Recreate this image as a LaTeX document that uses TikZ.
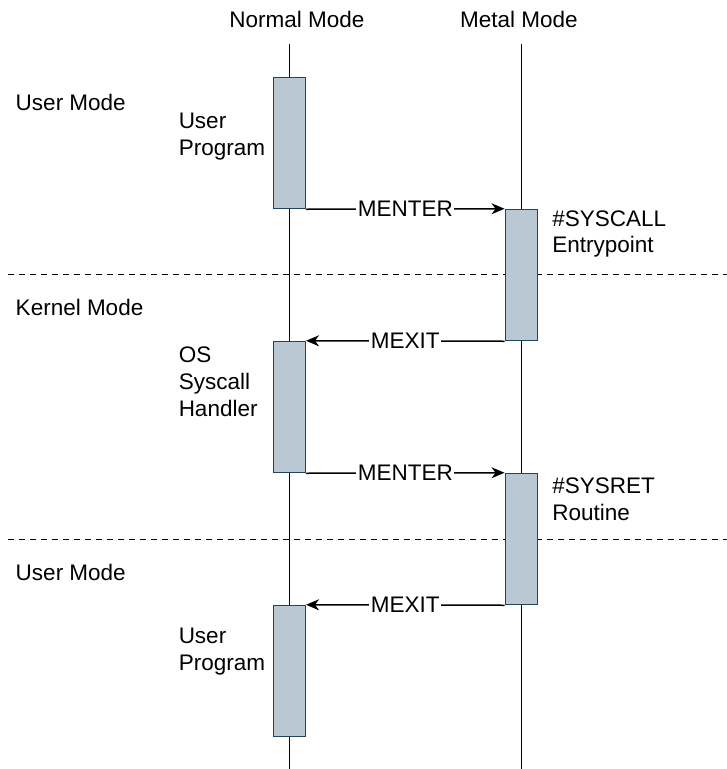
\documentclass[tikz,border=0pt]{standalone}
\usepackage{fontspec}
\setmainfont{Liberation Sans}
\usepackage{xcolor}
\usetikzlibrary{calc, positioning, arrows.meta}

\definecolor{actfill}{HTML}{BAC8D3}
\definecolor{actdraw}{HTML}{23445D}

\begin{document}
\begin{tikzpicture}[x=1pt,y=-1pt,line width=1.5pt,
  every node/.style={font=\fontsize{22.5}{26.6}\selectfont,inner sep=0pt},
  act/.style={draw=actdraw,fill=actfill,minimum width=32pt,minimum height=131pt},
  msg/.style={-{Stealth[length=13pt,width=11pt,inset=4pt]}},
  lbl/.style={fill=white,inner xsep=1.5pt,inner ysep=2pt},
  txt/.style={align=left,anchor=north west},
  sep/.style={dash pattern=on 6pt off 5pt}]
\useasboundingbox (0,0) rectangle (727,769);

\node[anchor=base] (nm) at (297,27) {Normal Mode};
\node[anchor=base] (mm) at (519,27) {Metal Mode};

% lifelines
\coordinate (nm top) at (289.3,44);
\coordinate (nm bot) at (289.3,769);
\coordinate (mm top) at (521.3,44);
\coordinate (mm bot) at (521.3,769);
\draw (nm top) -- (nm bot);
\draw (mm top) -- (mm bot);

% mode borders
\coordinate (b1 l) at (8,274.5);
\coordinate (b1 r) at (727,274.5);
\coordinate (b2 l) at (8,539.3);
\coordinate (b2 r) at (727,539.3);
\draw[sep] (b1 l) -- (b1 r);
\draw[sep] (b2 l) -- (b2 r);

\node[anchor=base west] (user a) at (15,110) {User Mode};
\node[anchor=base west] (kernel) at (15,315) {Kernel Mode};
\node[anchor=base west] (user b) at (15,580) {User Mode};

% activations
\node[act] (prog a) at (289.3,143) {};
\node[act] (syscall) at (521.3,275) {};
\node[act] (handler) at (289.3,407) {};
\node[act] (sysret) at (521.3,539) {};
\node[act] (prog b) at (289.3,671) {};

\node[txt] (prog a t) at (178,112.2) {User\\Program};
\node[txt] (syscall t) at (551.7,209.9) {\#SYSCALL\\Entrypoint};
\node[txt] (handler t) at (178,346.4) {OS\\Syscall\\Handler};
\node[txt] (sysret t) at (551.7,477.2) {\#SYSRET\\Routine};
\node[txt] (prog b t) at (178,627.2) {User\\Program};

% messages
\draw[msg] (prog a.south east) -- node[lbl] {MENTER} (syscall.north west);
\draw[msg] (syscall.south west) -- node[lbl] {MEXIT} (handler.north east);
\draw[msg] (handler.south east) -- node[lbl] {MENTER} (sysret.north west);
\draw[msg] (sysret.south west) -- node[lbl] {MEXIT} (prog b.north east);
\end{tikzpicture}
\end{document}
